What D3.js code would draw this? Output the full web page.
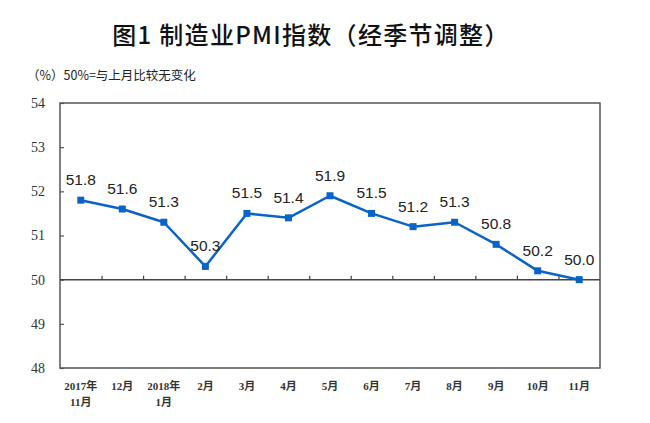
<!DOCTYPE html>
<html><head><meta charset="utf-8">
<script src="https://cdn.jsdelivr.net/npm/d3@7"></script>
<style>body{margin:0;background:#fff;}svg{display:block;}</style>
</head><body>
<script>
const categories = ["2017年\n11月","12月","2018年\n1月","2月","3月","4月","5月","6月","7月","8月","9月","10月","11月"];
const pmi = [51.8,51.6,51.3,50.3,51.5,51.4,51.9,51.5,51.2,51.3,50.8,50.2,50.0];
const yTicks = [48,49,50,51,52,53,54];
const title = "图1 制造业PMI指数（经季节调整）";
const subtitle = "（%）50%=与上月比较无变化";

const W=650,H=423;
const svg=d3.select("body").append("svg").attr("width",W).attr("height",H);
const L=60,R=600,T=103,B=368;
const x=d3.scaleBand().domain(d3.range(categories.length)).range([L,R]);
const y=d3.scaleLinear().domain([48,54]).range([B,T]);

svg.append("text").attr("x",311).attr("y",44).attr("text-anchor","middle")
 .attr("font-family","'Noto Sans CJK SC',sans-serif").attr("font-weight",500).attr("font-size",24)
 .attr("letter-spacing",1.3).attr("fill","#111").text(title);
svg.append("text").attr("x",27).attr("y",80)
 .attr("font-family","'Noto Sans CJK SC',sans-serif").attr("font-size",12.5).attr("fill","#222").text(subtitle);

// frame
svg.append("rect").attr("x",L).attr("y",T).attr("width",R-L).attr("height",B-T)
 .attr("fill","none").attr("stroke","#555").attr("stroke-width",1.5);

// y axis
const yAxis=d3.axisLeft(y).tickValues(yTicks).tickSize(-4).tickPadding(15).tickFormat(d3.format("d"));
const gy=svg.append("g").attr("transform",`translate(${L},0)`).call(yAxis);
gy.select(".domain").remove();
gy.selectAll("line").attr("stroke","#555").attr("stroke-width",1.2);
gy.selectAll("text").attr("font-family","'Liberation Serif',serif").attr("font-size",14).attr("fill","#333");

// 50 line with ticks
const bounds=d3.range(1,categories.length).map(i=>x(i));
const xAxis=d3.axisTop(d3.scaleLinear().domain([L,R]).range([L,R])).tickValues(bounds).tickSize(4).tickFormat("");
const gx=svg.append("g").attr("transform",`translate(0,${y(50)})`).call(xAxis);
gx.select(".domain").attr("stroke","#444").attr("stroke-width",1.5).attr("d",`M${L},0H${R}`);
gx.selectAll("line").attr("stroke","#444").attr("stroke-width",1.2);

// category labels
const cl=svg.append("g");
categories.forEach((c,i)=>{
  const lines=c.split("\n");
  const t=cl.append("text").attr("x",x(i)+x.bandwidth()/2).attr("text-anchor","middle")
   .attr("font-family","'Liberation Serif','Noto Sans CJK SC',serif").attr("font-weight","bold").attr("font-size",11).attr("fill","#333");
  lines.forEach((s,k)=>t.append("tspan").attr("x",x(i)+x.bandwidth()/2).attr("y",390+k*16).text(s));
});

// line
const cx=i=>x(i)+x.bandwidth()/2;
svg.append("path").datum(pmi).attr("fill","none").attr("stroke","#0a64c8").attr("stroke-width",2.5)
 .attr("stroke-linejoin","round")
 .attr("d",d3.line().x((d,i)=>cx(i)).y(d=>y(d)));
svg.selectAll("rect.m").data(pmi).join("rect").attr("class","m")
 .attr("x",(d,i)=>cx(i)-3.5).attr("y",d=>y(d)-3.5).attr("width",7).attr("height",7).attr("fill","#0a64c8");
svg.selectAll("text.v").data(pmi).join("text").attr("class","v")
 .attr("x",(d,i)=>cx(i)).attr("y",d=>y(d)-15).attr("text-anchor","middle")
 .attr("font-family","'Liberation Sans',Arial,sans-serif").attr("font-size",15.5).attr("fill","#222")
 .text(d=>d.toFixed(1));
</script>
</body></html>
